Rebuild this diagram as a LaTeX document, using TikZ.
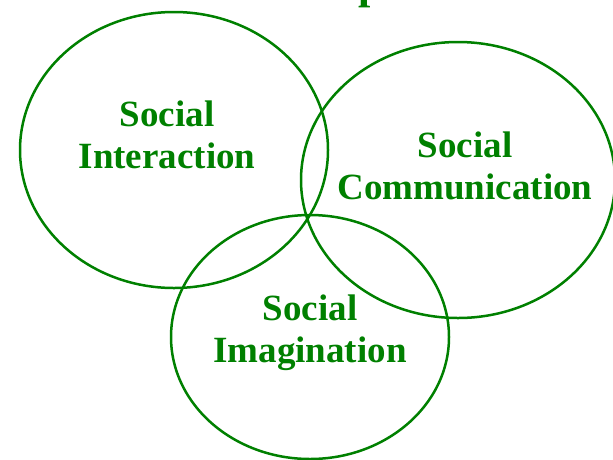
\documentclass[tikz,border=0pt]{standalone}
\usepackage{fontspec}
\setmainfont{Liberation Serif}
\definecolor{vgreen}{RGB}{0,128,0}
\begin{document}
\begin{tikzpicture}[x=1pt,y=-1pt,
  ring/.style={draw=vgreen,line width=2.5pt},
  lbl/.style={text=vgreen,font=\fontsize{37}{42}\selectfont\bfseries,align=center,inner sep=0pt}]
\useasboundingbox (0,0) rectangle (613,459);
\draw[ring] (174,150) ellipse [x radius=154,y radius=138];
\draw[ring] (458,180) ellipse [x radius=157,y radius=138];
\draw[ring] (310,337) ellipse [x radius=139,y radius=122];
\node[lbl] (si) at (167,135) {Social\\Interaction};
\node[lbl] (sc) at (465,166) {Social\\Communication};
\node[lbl] (sm) at (310,333) {Social\\Imagination};
\node[text=vgreen,font=\fontsize{44}{50}\selectfont\bfseries,inner sep=0pt,anchor=base west] (tp) at (358,-1.5) {p};
\end{tikzpicture}
\end{document}
